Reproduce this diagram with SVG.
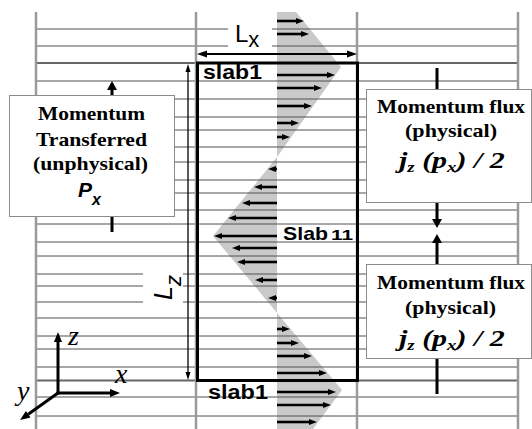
<svg xmlns="http://www.w3.org/2000/svg" width="532" height="429" viewBox="0 0 532 429">
<style>
.hl{stroke:#505050;stroke-width:1;fill:none}
.vl{stroke:#9a9a9a;stroke-width:2.5;fill:none}
.thick{stroke:#666;stroke-width:2;fill:none}
.prof{stroke:#000;stroke-width:2.6;marker-end:url(#ah)}
.box{fill:#fff;stroke:#8c8c8c;stroke-width:1}
.serifb{font-family:'Liberation Serif',serif;font-weight:700;fill:#000}
.serifbi{font-family:'Liberation Serif',serif;font-weight:700;font-style:italic;fill:#000}
.serifi{font-family:'Liberation Serif',serif;font-style:italic;fill:#000}
.sansb{font-family:'Liberation Sans',sans-serif;font-weight:700;fill:#000}
.sansbi{font-family:'Liberation Sans',sans-serif;font-weight:700;font-style:italic;fill:#000}
.sans{font-family:'Liberation Sans',sans-serif;fill:#000}
</style>
<defs>
<marker id="ah" markerUnits="userSpaceOnUse" markerWidth="8" markerHeight="6" refX="0" refY="3" orient="auto" overflow="visible"><path d="M0,0 L8,3 L0,6z" fill="#000"/></marker>
<marker id="ahL" markerUnits="userSpaceOnUse" markerWidth="10" markerHeight="7" refX="0" refY="3.5" orient="auto-start-reverse" overflow="visible"><path d="M0,0 L10,3.5 L0,7z" fill="#000"/></marker>
<marker id="ahZ" markerUnits="userSpaceOnUse" markerWidth="8" markerHeight="5" refX="0" refY="2.5" orient="auto-start-reverse" overflow="visible"><path d="M0,0 L8,2.5 L0,5z" fill="#000"/></marker>
<marker id="ahB" markerUnits="userSpaceOnUse" markerWidth="9" markerHeight="10" refX="0" refY="5" orient="auto" overflow="visible"><path d="M0,0 L9,5 L0,10z" fill="#000"/></marker>
<marker id="ahA" markerUnits="userSpaceOnUse" markerWidth="10" markerHeight="8" refX="0" refY="4" orient="auto" overflow="visible"><path d="M0,0 L10,4 L0,8z" fill="#000"/></marker>
</defs>
<rect width="532" height="429" fill="#fff"/>

<g id="velocity-profile">
<polygon points="277,12 296,12 341,67 277,157 213,236 277,313 342,390 313,429 277,429" fill="#c9c9c9"/>
</g>

<g id="grid">
<path class="hl" d="M36,29H228M272,29H518M36,46H228M272,46H518M36,81H518M36,99H518M36,117H518M36,130H518M36,147H518M36,162H518M36,180H518M36,193H518M36,210H518M36,224H518M36,242H518M36,256H518M36,274H143M183,274H518M36,286H143M183,286H518M36,302H143M183,302H518M36,318H518M36,336H518M36,349H518M36,367H518M36,397H518M36,416H518"/>
<path class="thick" d="M36,63H196M357,63H518M36,380.5H196M357,380.5H518"/>
<path class="vl" d="M36,12V429M196,12V429M357,12V429M518,12V429"/>
</g>

<g id="simulation-box">
<rect x="197.5" y="63" width="160" height="317.5" fill="none" stroke="#000" stroke-width="3"/>
<text class="sansb" x="203" y="79" font-size="20" textLength="59" lengthAdjust="spacingAndGlyphs">slab1</text>
<text class="sansb" x="208" y="399" font-size="20" textLength="60" lengthAdjust="spacingAndGlyphs">slab1</text>
<text class="sansb" x="283" y="240" font-size="19" textLength="45" lengthAdjust="spacingAndGlyphs">Slab</text>
<text class="sansb" x="331" y="240" font-size="15" textLength="22" lengthAdjust="spacingAndGlyphs">11</text>
</g>

<g id="connectors">
<g id="profile-arrows" class="prof">
<line x1="277" y1="21" x2="296" y2="21"/>
<line x1="277" y1="34" x2="301" y2="34"/>
<line x1="277" y1="75" x2="327" y2="75"/>
<line x1="277" y1="88" x2="314" y2="88"/>
<line x1="277" y1="106" x2="304" y2="106"/>
<line x1="277" y1="123" x2="291" y2="123"/>
<line x1="277" y1="137" x2="282" y2="137"/>
<line x1="277" y1="169" x2="276" y2="169"/>
<line x1="277" y1="187" x2="262" y2="187"/>
<line x1="277" y1="203" x2="250" y2="203"/>
<line x1="277" y1="218" x2="236" y2="218"/>
<line x1="277" y1="236" x2="222" y2="236"/>
<line x1="277" y1="248" x2="240" y2="248"/>
<line x1="277" y1="262" x2="245" y2="262"/>
<line x1="277" y1="280" x2="263" y2="280"/>
<line x1="277" y1="298" x2="276" y2="298"/>
<line x1="277" y1="329" x2="282" y2="329"/>
<line x1="277" y1="343" x2="291" y2="343"/>
<line x1="277" y1="356" x2="304" y2="356"/>
<line x1="277" y1="373" x2="319" y2="373"/>
<line x1="277" y1="392" x2="328" y2="392"/>
<line x1="277" y1="405" x2="323" y2="405"/>
<line x1="277" y1="422" x2="309" y2="422"/>
</g>
<line x1="207" y1="54" x2="347" y2="54" stroke="#000" stroke-width="2" marker-start="url(#ahL)" marker-end="url(#ahL)"/>
<line x1="188" y1="72" x2="188" y2="372" stroke="#000" stroke-width="1.3" marker-start="url(#ahZ)" marker-end="url(#ahZ)"/>
<line x1="112" y1="95" x2="112" y2="90" stroke="#000" stroke-width="3" marker-end="url(#ahB)"/>
<line x1="112" y1="216" x2="112" y2="232" stroke="#000" stroke-width="3"/>
<line x1="437" y1="68" x2="437" y2="90" stroke="#000" stroke-width="3"/>
<line x1="437" y1="202" x2="437" y2="219" stroke="#000" stroke-width="3" marker-end="url(#ahB)"/>
<line x1="437" y1="264" x2="437" y2="243" stroke="#000" stroke-width="3" marker-end="url(#ahB)"/>
<line x1="437" y1="358" x2="437" y2="394" stroke="#000" stroke-width="3"/>
</g>

<g id="dimension-labels">
<text class="sans" x="235" y="42" font-size="24">L<tspan font-size="22" dy="5">x</tspan></text>
<text class="sans" font-style="italic" transform="translate(172,300) rotate(-90)" font-size="25">L<tspan font-size="22" dy="9">z</tspan></text>
</g>

<g id="momentum-transferred">
<rect class="box" x="9.5" y="95.5" width="165" height="121"/>
<text class="serifb" x="38" y="120" font-size="19" textLength="107" lengthAdjust="spacingAndGlyphs">Momentum</text>
<text class="serifb" x="36" y="146" font-size="19" textLength="111" lengthAdjust="spacingAndGlyphs">Transferred</text>
<text class="serifb" x="33" y="170" font-size="19" textLength="115" lengthAdjust="spacingAndGlyphs">(unphysical)</text>
<text class="sansbi" x="78" y="197" font-size="21">P<tspan font-size="16" dy="8">x</tspan></text>
</g>

<g id="momentum-flux-top">
<rect class="box" x="366.5" y="89.5" width="165" height="113"/>
<text class="serifb" x="377" y="113" font-size="19" textLength="148" lengthAdjust="spacingAndGlyphs">Momentum flux</text>
<text class="serifb" x="405" y="137" font-size="19" textLength="92" lengthAdjust="spacingAndGlyphs">(physical)</text>
<g transform="translate(399,168) scale(1.25,1)"><text class="serifbi" font-size="24">j<tspan font-size="15" dy="4">z</tspan><tspan dy="-4"> (p</tspan><tspan font-size="15" dy="4">x</tspan><tspan dy="-4">) / 2</tspan></text></g>
</g>

<g id="momentum-flux-bottom">
<rect class="box" x="366.5" y="264.5" width="165" height="94"/>
<text class="serifb" x="377" y="289" font-size="19" textLength="148" lengthAdjust="spacingAndGlyphs">Momentum flux</text>
<text class="serifb" x="405" y="314" font-size="19" textLength="91" lengthAdjust="spacingAndGlyphs">(physical)</text>
<g transform="translate(399,346) scale(1.25,1)"><text class="serifbi" font-size="24">j<tspan font-size="15" dy="4">z</tspan><tspan dy="-4"> (p</tspan><tspan font-size="15" dy="4">x</tspan><tspan dy="-4">) / 2</tspan></text></g>
</g>

<g id="axes">
<line x1="58" y1="394.5" x2="58" y2="342" stroke="#000" stroke-width="3" marker-end="url(#ahA)"/>
<line x1="56.5" y1="393" x2="110" y2="393" stroke="#000" stroke-width="3" marker-end="url(#ahA)"/>
<line x1="58" y1="393" x2="28.2" y2="414.2" stroke="#000" stroke-width="3" marker-end="url(#ahA)"/>
<text class="serifi" x="68" y="345" font-size="28">z</text>
<text class="serifi" x="115" y="383" font-size="28">x</text>
<text class="serifi" x="17" y="400" font-size="28">y</text>
</g>
</svg>
